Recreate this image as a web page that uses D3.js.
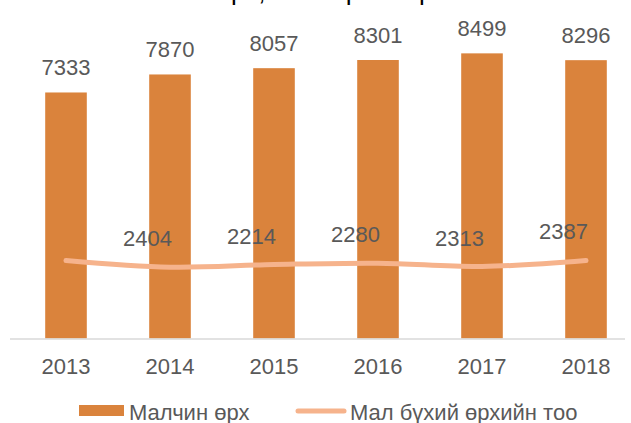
<!DOCTYPE html>
<meta charset='utf-8'>
<style>
    body { margin: 0; background: #fff; }
    text { font-family: 'Liberation Sans', Arial, sans-serif; }
</style>
<body>
    <script src='https://d3js.org/d3.v7.min.js'></script>
    <script>
        var width = 631,
            height = 423;

        // chart data
        var years = ['2013', '2014', '2015', '2016', '2017', '2018'];
        var herderHouseholds = [7333, 7870, 8057, 8301, 8499, 8296];
        var livestockHouseholds = [2325, 2125, 2205, 2245, 2145, 2325];
        var livestockLabels = ['', '2404', '2214', '2280', '2313', '2387'];
        var legendNames = ['Малчин өрх', 'Мал бүхий өрхийн тоо'];
        var title = 'Малчин өрх, мал бүхий өрхийн тоо';

        var barColor = '#da833c',
            lineColor = '#f6b38c',
            textColor = '#595959';

        var svg = d3.select('body').append('svg')
            .attr('width', width)
            .attr('height', height);

        var x = d3.scaleBand()
            .domain(years)
            .range([14, 638])
            .paddingInner(0.6)
            .paddingOuter(0.3);

        var y = d3.scaleLinear()
            .domain([0, 10000])
            .range([338.5, 3]);

        // title, mostly outside the top edge
        svg.append('text')
            .attr('x', 116)
            .attr('y', 0)
            .style('font-size', '26px')
            .style('fill', '#000')
            .text(title);

        // bars
        svg.selectAll('rect.bar').data(herderHouseholds)
            .enter().append('rect')
            .attr('class', 'bar')
            .attr('x', function(d, i) { return x(years[i]); })
            .attr('width', x.bandwidth())
            .attr('y', function(d) { return y(d); })
            .attr('height', function(d) { return y(0) - y(d); })
            .attr('fill', barColor);

        svg.selectAll('text.barlabel').data(herderHouseholds)
            .enter().append('text')
            .attr('class', 'barlabel')
            .attr('x', function(d, i) { return x(years[i]) + x.bandwidth() / 2; })
            .attr('y', function(d) { return y(d) - 17; })
            .attr('text-anchor', 'middle')
            .style('font-size', '22px')
            .style('fill', textColor)
            .text(function(d) { return d; });

        // category axis
        svg.append('line')
            .attr('x1', 10).attr('x2', 625)
            .attr('y1', y(0) + 0.5).attr('y2', y(0) + 0.5)
            .attr('stroke', '#d9d9d9')
            .attr('stroke-width', 1.5);

        var axis = svg.append('g')
            .attr('transform', 'translate(0,' + y(0) + ')')
            .call(d3.axisBottom(x).tickSize(0).tickPadding(20));
        axis.select('.domain').remove();
        axis.selectAll('text')
            .style('font-size', '22px')
            .style('font-family', "'Liberation Sans', Arial, sans-serif")
            .style('fill', textColor);

        // line
        var line = d3.line()
            .x(function(d, i) { return x(years[i]) + x.bandwidth() / 2; })
            .y(function(d) { return y(d); })
            .curve(d3.curveCatmullRom);

        svg.append('path')
            .datum(livestockHouseholds)
            .attr('d', line)
            .attr('fill', 'none')
            .attr('stroke', lineColor)
            .attr('stroke-width', 5)
            .attr('stroke-linecap', 'round');

        svg.selectAll('text.linelabel').data(livestockHouseholds)
            .enter().append('text')
            .attr('class', 'linelabel')
            .attr('x', function(d, i) { return x(years[i]) + x.bandwidth() / 2 + 2; })
            .attr('y', function(d) { return y(d) - 21; })
            .attr('text-anchor', 'end')
            .style('font-size', '22px')
            .style('fill', textColor)
            .text(function(d, i) { return livestockLabels[i]; });

        // legend
        var legend = svg.append('g');
        legend.append('rect')
            .attr('x', 79).attr('y', 405)
            .attr('width', 45).attr('height', 11)
            .attr('fill', barColor);
        legend.append('text')
            .attr('x', 129).attr('y', 420)
            .style('font-size', '22px')
            .style('fill', textColor)
            .text(legendNames[0]);
        legend.append('line')
            .attr('x1', 298).attr('x2', 344)
            .attr('y1', 411).attr('y2', 411)
            .attr('stroke', lineColor)
            .attr('stroke-width', 5)
            .attr('stroke-linecap', 'round');
        legend.append('text')
            .attr('x', 350).attr('y', 420)
            .style('font-size', '22px')
            .style('fill', textColor)
            .text(legendNames[1]);
    </script>
</body>
